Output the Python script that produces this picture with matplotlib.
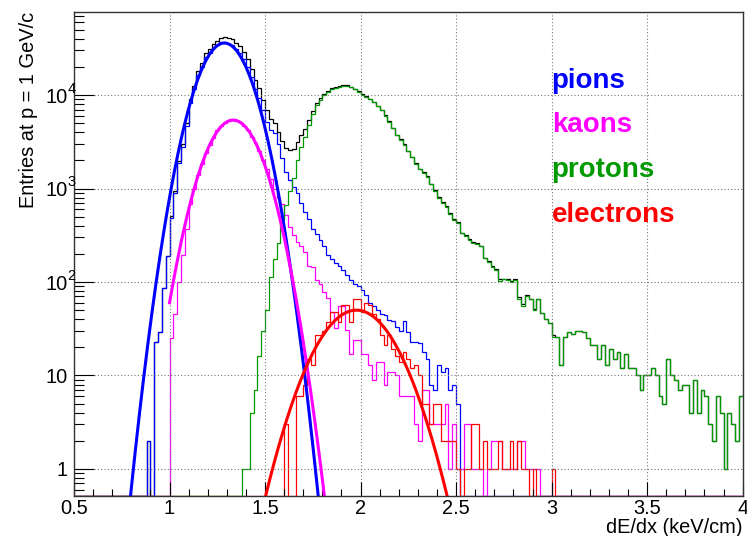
#dE/dx spectra at p = 1 GeV/c for pions, kaons, protons and electrons (ROOT style)
import numpy as np
import matplotlib
matplotlib.use('Agg')
import matplotlib.pyplot as plt
from matplotlib.ticker import FixedLocator, LogLocator, MultipleLocator, FuncFormatter, NullFormatter

plt.rcParams['font.family'] = ['Liberation Sans', 'DejaVu Sans']

#Binning of the histograms
bin_width = 0.02
x_lo, x_hi = 0.5, 4.0

#Counts per bin (first bin edge given by *_start)
pion_start = 0.88
pion_counts = [2, 0, 23, 29, 87, 190, 480, 890, 1870, 2800,
               4700, 8300, 11500, 16500, 20000, 25500, 28500, 32000, 34000, 36500,
               37000, 35500, 34500, 31000, 28000, 24000, 20000, 15500, 11500, 9300,
               6900, 5200, 4200, 3900, 3000, 2100, 1500, 1230, 1050, 890,
               700, 560, 470, 370, 330, 280, 240, 195, 175, 160,
               150, 135, 119, 105, 95, 90, 82, 73, 59, 56,
               50, 46, 44, 39, 38, 33, 30, 38, 29, 23,
               23, 22, 18, 15, 8, 7, 13, 11, 12, 7,
               8, 5]

kaon_start = 1.00
kaon_counts = [25, 46, 100, 195, 365, 690, 1000, 1400, 1850, 2400,
               2900, 3500, 4200, 4700, 5000, 5300, 5400, 5300, 5100, 4700,
               4200, 3600, 3100, 2500, 2000, 1600, 1250, 1000, 800, 690,
               520, 390, 315, 270, 240, 210, 150, 145, 105, 95,
               79, 67, 48, 32, 55, 55, 31, 17, 24, 24,
               17, 17, 13, 9, 14, 14, 8, 11, 11, 10,
               6, 6, 6, 6, 3, 2, 7, 7, 3, 3,
               3, 3, 5, 1, 3, 1, 1, 3, 3, 1,
               1, 1, 0, 1, 2, 2, 2, 1, 1, 1,
               1, 2, 2, 1, 1, 1, 1]

proton_start = 1.38
proton_counts = [1, 1, 4, 7, 16, 30, 50, 112, 175, 260,
                 460, 660, 950, 1300, 2000, 2800, 3600, 4800, 6300, 7800,
                 8800, 10000, 10800, 11500, 12000, 12300, 12500, 12500, 12100, 11500,
                 10800, 10000, 9600, 9000, 8400, 7600, 6900, 6000, 5200, 4400,
                 3700, 3300, 2900, 2500, 2150, 1850, 1600, 1475, 1320, 1117,
                 948, 785, 694, 638, 533, 460, 431, 331, 311, 281,
                 263, 255, 243, 179, 165, 146, 134, 103, 107, 105,
                 100, 105, 65, 55, 70, 65, 50, 65, 47, 40,
                 36, 26, 26, 13, 26, 29, 28, 30, 30, 29,
                 25, 21, 21, 15, 21, 13, 19, 15, 18, 12,
                 17, 12, 12, 10, 7, 10, 10, 12, 10, 6,
                 5, 15, 10, 9, 7, 8, 8, 4, 9, 4,
                 7, 6, 3, 2, 6, 4, 1, 4, 3, 2,
                 6]

electron_start = 1.58
electron_counts = [0, 3, 0, 0, 6, 6, 8, 15, 13, 27,
                   27, 30, 37, 48, 48, 37, 57, 57, 37, 65,
                   65, 48, 60, 57, 45, 40, 27, 21, 27, 19,
                   16, 14, 18, 15, 12, 13, 10, 5, 5, 3,
                   5, 5, 2, 2, 2, 2, 1, 0, 1, 1,
                   3, 3, 1, 2, 1, 1, 1, 2, 1, 1,
                   2, 1, 2, 1, 1, 0, 1, 0, 0, 0,
                   0, 1]

#Gaussian fits (amplitude, mean, sigma, fit range)
pion_fit = (36000, 1.287, 0.104, 0.5, 4.0)
kaon_fit = (5400, 1.333, 0.111, 1.0, 2.0)
electron_fit = (50, 1.978, 0.157, 0.5, 4.0)

species = ['pions', 'kaons', 'protons', 'electrons']
colors = {'pions': '#0000ff', 'kaons': '#ff00ff', 'protons': '#009900', 'electrons': '#ff0000'}

y_min, y_max = 0.514, 7.73e4

edges = np.round(np.arange(x_lo, x_hi + bin_width / 2, bin_width), 4)
n_bins = len(edges) - 1

def fill(start, counts):
    full = np.zeros(n_bins)
    i0 = int(round((start - x_lo) / bin_width))
    full[i0:i0 + len(counts)] = counts
    return full

hists = {
    'pions': fill(pion_start, pion_counts),
    'kaons': fill(kaon_start, kaon_counts),
    'protons': fill(proton_start, proton_counts),
    'electrons': fill(electron_start, electron_counts),
}
total = sum(hists.values())

def for_log(v):
    #empty bins are drawn on the lower frame edge, like ROOT does
    return np.where(v > 0, v, y_min)

fig = plt.figure(figsize=(7.47, 5.36), dpi=100)
ax = fig.add_axes([74 / 747, 40 / 536, (742.7 - 74) / 747, 484 / 536])

ax.stairs(for_log(total), edges, baseline=None, color='black', lw=0.9)
for name in ['pions', 'kaons', 'electrons', 'protons']:
    ax.stairs(for_log(hists[name]), edges, baseline=None, color=colors[name], lw=0.9)

for fit, name in [(pion_fit, 'pions'), (kaon_fit, 'kaons'), (electron_fit, 'electrons')]:
    amp, mu, sig, lo, hi = fit
    xf = np.linspace(lo, hi, 800)
    yf = amp * np.exp(-0.5 * ((xf - mu) / sig) ** 2)
    ax.plot(xf, yf, color=colors[name], lw=2.2)

ax.set_yscale('log')
ax.set_xlim(x_lo, x_hi)
ax.set_ylim(y_min, y_max)

ax.xaxis.set_major_locator(MultipleLocator(0.5))
ax.xaxis.set_minor_locator(MultipleLocator(0.1))
ax.xaxis.set_major_formatter(FuncFormatter(lambda v, p: f'{v:g}'))
y_major = [1, 10, 100, 1000, 10000]
ax.yaxis.set_major_locator(FixedLocator(y_major))
ax.yaxis.set_minor_locator(LogLocator(base=10, subs=np.arange(2, 10)))
ax.yaxis.set_minor_formatter(NullFormatter())
#ROOT writes 10^n as "10" with the exponent set above, right of the label
ax.yaxis.set_major_formatter(FuncFormatter(lambda v, p: '1' if v == 1 else '10'))

ax.tick_params(axis='both', which='both', direction='in', top=False, right=False,
               labelsize=14.4, colors='black', width=0.8)
ax.tick_params(axis='x', which='major', length=10.4, pad=2.5)
ax.tick_params(axis='x', which='minor', length=5.2)
ax.tick_params(axis='y', which='major', length=14.4, pad=4.5)
ax.tick_params(axis='y', which='minor', length=7.2)

for v in y_major[2:]:
    ax.annotate(str(int(round(np.log10(v)))), xy=(0, v), xycoords=('axes fraction', 'data'),
                xytext=(-4.6, 1.5), textcoords='offset points', fontsize=10.5,
                ha='left', va='baseline')

ax.grid(True, which='major', linestyle=(0, (1, 2)), color='#777777', lw=0.8)
for s in ax.spines.values():
    s.set_linewidth(1.0)
    s.set_color('#333333')

#Species labels
label_y = [1.2e4, 4.05e3, 1.34e3, 4.4e2]
for name, yv in zip(species, label_y):
    ax.text(3.0, yv, name, color=colors[name], fontsize=20, fontweight='bold',
            ha='left', va='baseline')

fig.text(29 / 747, 1 - 12 / 536, 'Entries at p = 1 GeV/c', rotation=90,
         ha='center', va='top', fontsize=14.4)
fig.text(742 / 747, 1 - 533 / 536, 'dE/dx (keV/cm)', ha='right', va='baseline',
         fontsize=14.4)

fig.savefig('out.png', dpi=100)
